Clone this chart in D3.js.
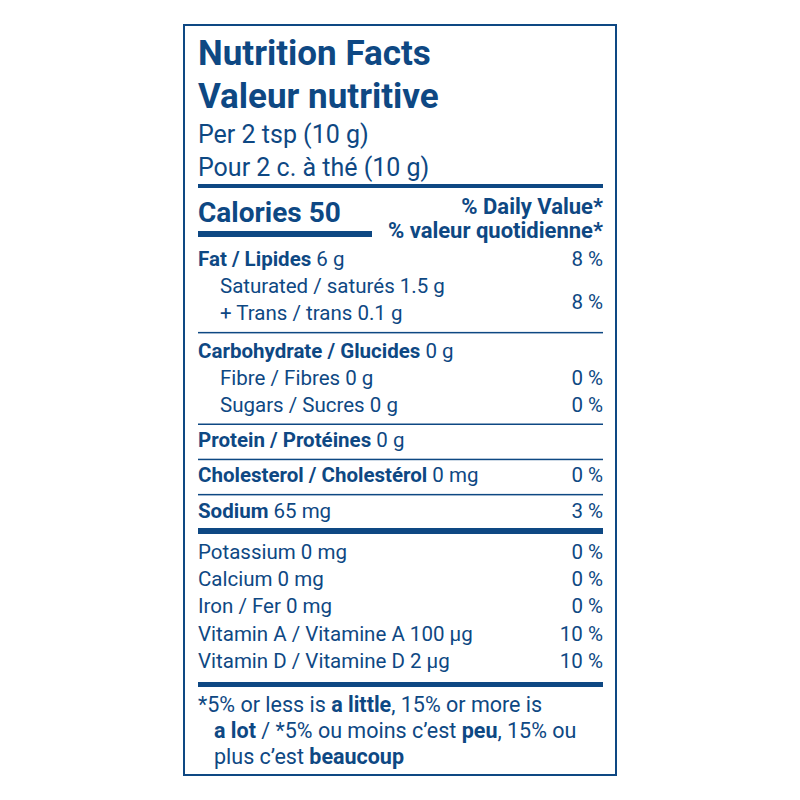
<!DOCTYPE html>
<html><head><meta charset="utf-8">
<script src="https://cdn.jsdelivr.net/npm/d3@7"></script>
<style>body{margin:0;background:#fff}text{font-family:Roboto,"Liberation Sans",sans-serif;fill:#0e4883}</style>
</head><body><svg id="c" width="800" height="800"></svg>
<script>
// ── Data ──────────────────────────────────────────────────────────────────────
const titleLines   = ["Nutrition Facts", "Valeur nutritive"];
const servingLines = ["Per 2 tsp (10 g)", "Pour 2 c. à thé (10 g)"];
const calories     = 50;
const dvHeader     = ["% Daily Value*", "% valeur quotidienne*"];

// [bold label, amount, % DV, indent, group]
const mainRows = [
  ["Fat / Lipides", "6 g", "8 %", 0, 0],
  ["", "Saturated / saturés 1.5 g", "", 1, 0],
  ["", "+ Trans / trans 0.1 g", "", 1, 0],
  ["Carbohydrate / Glucides", "0 g", "", 0, 1],
  ["", "Fibre / Fibres 0 g", "0 %", 1, 1],
  ["", "Sugars / Sucres 0 g", "0 %", 1, 1],
  ["Protein / Protéines", "0 g", "", 0, 2],
  ["Cholesterol / Cholestérol", "0 mg", "0 %", 0, 3],
  ["Sodium", "65 mg", "3 %", 0, 4]
];
const satTransDV = "8 %";
const minerals = [
  ["Potassium 0 mg", "0 %"],
  ["Calcium 0 mg", "0 %"],
  ["Iron / Fer 0 mg", "0 %"],
  ["Vitamin A / Vitamine A 100 µg", "10 %"],
  ["Vitamin D / Vitamine D 2 µg", "10 %"]
];
const footnote = [
  [["*5% or less is ", 0], ["a little", 1], [", 15% or more is", 0]],
  [["a lot", 1], [" / *5% ou moins c’est ", 0], ["peu", 1], [", 15% ou", 0]],
  [["plus c’est ", 0], ["beaucoup", 1]]
];

// ── Layout ────────────────────────────────────────────────────────────────────
const C = "#0e4883";
const svg = d3.select("#c");
const L = 198, R = 603, FS = 20.5;

svg.append("rect").attr("x", 184).attr("y", 25).attr("width", 432).attr("height", 750)
  .attr("fill", "none").attr("stroke", C).attr("stroke-width", 2);

function rule(y, w, x2 = R) {
  svg.append("rect").attr("x", L).attr("y", y).attr("width", x2 - L).attr("height", w).attr("fill", C);
}
function txt(x, y, s, size, weight, anchor = "start") {
  return svg.append("text").attr("x", x).attr("y", y).attr("font-size", size)
    .attr("font-weight", weight).attr("text-anchor", anchor).text(s);
}

titleLines.forEach((t, i) => txt(L, 65 + i * 43, t, 35, 700));
servingLines.forEach((t, i) => txt(L, 143 + i * 33, t, 25, 400));
rule(184, 4);
txt(L, 222, "Calories " + calories, 28, 700);
rule(231, 6, 372);
dvHeader.forEach((t, i) => txt(R, 214 + i * 24, t, 22, 700, "end"));

const rowY = d3.scaleLinear().domain([0, 1]).range([0, 27.2]);
const groupGap = [0, 10, 8, 8, 8];
let y = 266, prevGroup = 0;
mainRows.forEach((r, i) => {
  if (r[4] !== prevGroup) {
    rule(y - rowY(1) + 11.5, 1.5);
    y += groupGap[r[4]];
    prevGroup = r[4];
  }
  const x = r[3] ? 220 : L;
  const t = svg.append("text").attr("x", x).attr("y", y).attr("font-size", FS);
  if (r[0]) t.append("tspan").attr("font-weight", 700).text(r[0] + " ");
  t.append("tspan").text(r[1]);
  if (r[2]) txt(R, y, r[2], FS, 400, "end");
  if (i === 1) txt(R, y + 16, satTransDV, FS, 400, "end");
  y += rowY(1);
});
rule(528, 6);

minerals.forEach((m, i) => {
  const yy = 559 + rowY(i);
  txt(L, yy, m[0], FS, 400);
  txt(R, yy, m[1], FS, 400, "end");
});
rule(682, 5);

footnote.forEach((line, i) => {
  const t = svg.append("text").attr("x", i ? 214 : L).attr("y", 712 + i * 26).attr("font-size", 21.5);
  line.forEach(([s, b]) => t.append("tspan").attr("font-weight", b ? 700 : 400).text(s));
});
</script></body></html>
